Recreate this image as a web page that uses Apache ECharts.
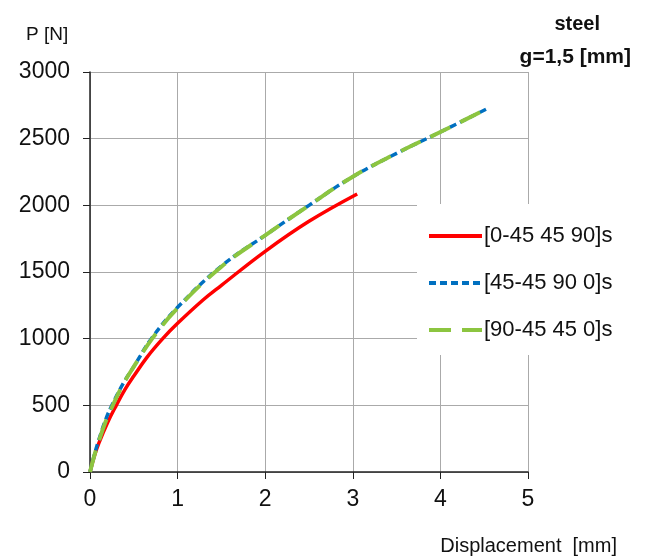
<!DOCTYPE html>
<html>
<head>
<meta charset="utf-8">
<script src="https://cdn.jsdelivr.net/npm/echarts@6/dist/echarts.min.js"></script>
<style>
  html, body { margin: 0; padding: 0; background: #fff; }
  #chart { width: 650px; height: 556px; }
</style>
</head>
<body>
<div id="chart"></div>
<script>
// series names
var names = ['[0-45 45 90]s', '[45-45 90 0]s', '[90-45 45 0]s'];

// displacement [mm] / load [N]
var dispRed = [0, 0.05, 0.1, 0.2, 0.3, 0.4, 0.5, 0.65, 0.83, 1, 1.29, 1.5, 2, 2.5, 3.05];
var loadRed = [0, 120, 215, 370, 500, 620, 720, 860, 1000, 1115, 1290, 1400, 1655, 1880, 2085];

var dispBlue = [0, 0.05, 0.1, 0.18, 0.25, 0.38, 0.5, 0.7, 1, 1.5, 2, 2.5, 3, 3.5, 4, 4.55];
var loadBlue = [0, 130, 240, 395, 500, 665, 790, 1000, 1235, 1545, 1775, 2000, 2215, 2390, 2550, 2730];

var dispGreen = [0, 0.05, 0.1, 0.18, 0.26, 0.38, 0.5, 0.71, 1, 1.5, 2, 2.5, 3, 3.5, 4, 4.55];
var loadGreen = [0, 125, 230, 380, 500, 660, 790, 1000, 1230, 1540, 1775, 2000, 2215, 2390, 2550, 2730];

var yTicks = [0, 500, 1000, 1500, 2000, 2500, 3000];
var xTicks = [0, 1, 2, 3, 4, 5];

function pairs(xs, ys) {
  var out = [];
  for (var i = 0; i < xs.length; i++) out.push([xs[i], ys[i]]);
  return out;
}

var font = "'Liberation Sans', Arial, sans-serif";

var chart = echarts.init(document.getElementById('chart'));

var option = {
  backgroundColor: '#ffffff',
  animation: false,
  textStyle: { fontFamily: font },
  title: [
    { text: 'P [N]', left: 21, top: 20, textStyle: { fontFamily: font, fontSize: 19, fontWeight: 'normal', color: '#111' } },
    { text: 'steel', right: 45, top: 9, textStyle: { fontFamily: font, fontSize: 20, fontWeight: 'bold', color: '#111' } },
    { text: 'g=1,5 [mm]', right: 14, top: 42, textStyle: { fontFamily: font, fontSize: 21, fontWeight: 'bold', color: '#111' } },
    { text: 'Displacement  [mm]', right: 28, top: 531, textStyle: { fontFamily: font, fontSize: 20, fontWeight: 'normal', color: '#111' } }
  ],
  grid: { left: 90, right: 122, top: 72, bottom: 84 },
  legend: {
    orient: 'vertical',
    left: 417,
    top: 204,
    backgroundColor: '#ffffff',
    padding: [21, 30, 14, 10],
    itemGap: 25,
    itemWidth: 53,
    itemHeight: 14,
    itemStyle: { opacity: 0 },
    lineStyle: { width: 4 },
    textStyle: { fontFamily: font, fontSize: 22, color: '#111', padding: [0, 0, 0, -3] },
    data: names
  },
  xAxis: {
    type: 'value',
    min: 0, max: 5, interval: 1,
    axisLine: { lineStyle: { color: '#222', width: 1.5 } },
    axisTick: { show: true, length: 7, lineStyle: { color: '#222' } },
    axisLabel: { fontFamily: font, fontSize: 23, color: '#111', margin: 16,
      formatter: function (v) { return xTicks.indexOf(v) >= 0 ? String(v) : ''; } },
    splitLine: { show: true, lineStyle: { color: '#aaaaaa', width: 1 } }
  },
  yAxis: {
    type: 'value',
    min: 0, max: 3000, interval: 500,
    axisLine: { show: true, lineStyle: { color: '#222', width: 1.5 } },
    axisTick: { show: true, length: 7, lineStyle: { color: '#222' } },
    axisLabel: { fontFamily: font, fontSize: 23, color: '#111', margin: 20,
      formatter: function (v) { return yTicks.indexOf(v) >= 0 ? String(v) : ''; } },
    splitLine: { show: true, lineStyle: { color: '#aaaaaa', width: 1 } }
  },
  series: [
    {
      name: names[0], type: 'line', smooth: 0.4, symbol: 'none',
      data: pairs(dispRed, loadRed),
      lineStyle: { color: '#ff0000', width: 3.5, type: 'solid' },
      itemStyle: { color: '#ff0000' }
    },
    {
      name: names[1], type: 'line', smooth: 0.4, symbol: 'none',
      data: pairs(dispBlue, loadBlue),
      lineStyle: { color: '#0070c0', width: 3.5, type: [7, 4] },
      itemStyle: { color: '#0070c0' }
    },
    {
      name: names[2], type: 'line', smooth: 0.4, symbol: 'none',
      data: pairs(dispGreen, loadGreen),
      lineStyle: { color: '#8cc540', width: 4, type: [22, 11] },
      itemStyle: { color: '#8cc540' }
    }
  ]
};

chart.setOption(option);
</script>
</body>
</html>
